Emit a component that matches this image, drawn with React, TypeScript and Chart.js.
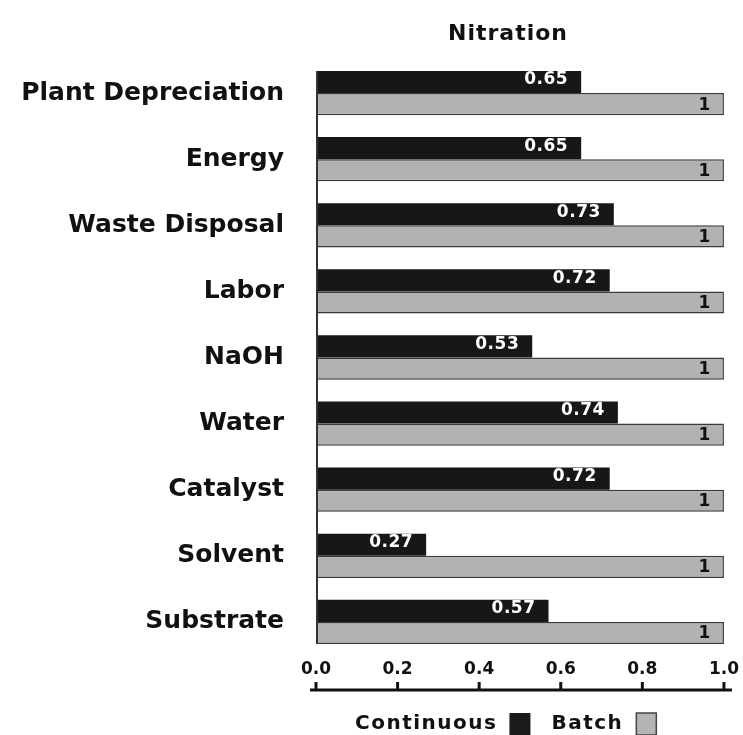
import React, { useEffect, useRef } from "react";
import { Chart, registerables } from "chart.js";

Chart.register(...registerables);

const categories = [
  "Plant Depreciation",
  "Energy",
  "Waste Disposal",
  "Labor",
  "NaOH",
  "Water",
  "Catalyst",
  "Solvent",
  "Substrate",
];
const continuous = [0.65, 0.65, 0.73, 0.72, 0.53, 0.74, 0.72, 0.27, 0.57];
const batch = [1, 1, 1, 1, 1, 1, 1, 1, 1];
const xTicks = [0, 0.2, 0.4, 0.6, 0.8, 1.0];
const titleText = "Nitration";
const seriesNames = ["Continuous", "Batch"];

const FONT = "'DejaVu Sans', sans-serif";

const decorPlugin = {
  id: "decor",
  afterDraw(chart: any) {
    const ctx = chart.ctx;
    const area = chart.chartArea;
    const xs = chart.scales.x;
    ctx.save();
    // title
    ctx.fillStyle = "#111";
    ctx.font = `bold 22px ${FONT}`;
    (ctx as any).letterSpacing = "1px";
    ctx.textAlign = "center";
    ctx.textBaseline = "middle";
    ctx.fillText(titleText, (area.left + area.right) / 2 - 12, 34);

    // y axis line between first bar top and last bar bottom
    const m0 = chart.getDatasetMeta(0).data;
    const m1 = chart.getDatasetMeta(1).data;
    const first = m0[0];
    const last = m1[m1.length - 1];
    const top = first.y - first.height / 2;
    const bottom = last.y + last.height / 2;
    ctx.strokeStyle = "#333";
    ctx.lineWidth = 2;
    ctx.beginPath();
    ctx.moveTo(area.left + 1, top);
    ctx.lineTo(area.left + 1, bottom);
    ctx.stroke();

    // value labels
    ctx.font = `bold 17px ${FONT}`;
    (ctx as any).letterSpacing = "0.5px";
    ctx.textAlign = "right";
    ctx.textBaseline = "middle";
    m0.forEach((el: any, i: number) => {
      ctx.fillStyle = "#fff";
      ctx.fillText(String(continuous[i]), el.x - 13, el.y - 2);
    });
    m1.forEach((el: any, i: number) => {
      ctx.fillStyle = "#111";
      ctx.fillText(String(batch[i]), el.x - 13, el.y + 1);
    });

    // x axis line with up ticks
    const axisY = 690;
    ctx.strokeStyle = "#111";
    ctx.lineWidth = 3;
    ctx.beginPath();
    ctx.moveTo(xs.getPixelForValue(0) - 6, axisY);
    ctx.lineTo(xs.getPixelForValue(1) + 8, axisY);
    ctx.stroke();
    xTicks.forEach((v) => {
      const px = xs.getPixelForValue(v);
      ctx.beginPath();
      ctx.moveTo(px, axisY);
      ctx.lineTo(px, axisY - 8);
      ctx.stroke();
    });

    // legend
    const ly = 724;
    ctx.font = `bold 20px ${FONT}`;
    (ctx as any).letterSpacing = "1.5px";
    ctx.textAlign = "left";
    ctx.fillStyle = "#111";
    ctx.fillText(seriesNames[0], 355, ly);
    const w0 = ctx.measureText(seriesNames[0]).width;
    const bx0 = 355 + w0 + 12;
    ctx.fillStyle = "#1a1a1a";
    ctx.fillRect(bx0, ly - 11, 21, 22);
    const tx1 = bx0 + 42;
    ctx.fillStyle = "#111";
    ctx.fillText(seriesNames[1], tx1, ly);
    const w1 = ctx.measureText(seriesNames[1]).width;
    const bx1 = tx1 + w1 + 13;
    ctx.fillStyle = "#b4b4b4";
    ctx.fillRect(bx1, ly - 11, 20, 22);
    ctx.strokeStyle = "#444";
    ctx.lineWidth = 1.5;
    ctx.strokeRect(bx1, ly - 11, 20, 22);
    ctx.restore();
  },
};

export default function App() {
  const ref = useRef<HTMLCanvasElement | null>(null);
  useEffect(() => {
    if (!ref.current) return;
    const chart = new Chart(ref.current, {
      type: "bar",
      data: {
        labels: categories,
        datasets: [
          {
            label: seriesNames[0],
            data: continuous,
            backgroundColor: "#171717",
            borderColor: "#171717",
            borderWidth: 0,
            categoryPercentage: 0.67,
            barPercentage: 1.0,
          },
          {
            label: seriesNames[1],
            data: batch,
            backgroundColor: "#b2b2b2",
            borderColor: "#3a3a3a",
            borderWidth: 1.5,
            borderSkipped: "left",
            categoryPercentage: 0.67,
            barPercentage: 1.0,
          },
        ],
      },
      options: {
        indexAxis: "y",
        animation: false,
        responsive: false,
        maintainAspectRatio: false,
        layout: { padding: { top: 60, right: 18, left: 0, bottom: 0 } },
        plugins: {
          legend: { display: false },
          title: { display: false },
          tooltip: { enabled: false },
        },
        scales: {
          x: {
            min: 0,
            max: 1,
            grid: { display: false, drawTicks: false },
            border: { display: false },
            afterBuildTicks: (s: any) => {
              s.ticks = xTicks.map((v) => ({ value: v }));
            },
            afterFit: (s: any) => {
              s.height = 735 - 655;
            },
            ticks: {
              padding: 4,
              color: "#111",
              font: { family: FONT, weight: "bold", size: 17 },
              callback: (v: any) => Number(v).toFixed(1),
            },
          },
          y: {
            grid: { display: false, drawTicks: false },
            border: { display: false },
            afterFit: (s: any) => {
              s.width = 316;
            },
            ticks: {
              padding: 32,
              color: "#111",
              font: { family: FONT, weight: "bold", size: 25 },
            },
          },
        },
      },
      plugins: [decorPlugin],
    } as any);
    return () => chart.destroy();
  }, []);
  return (
    <div style={{ position: "fixed", left: 0, top: 0, width: 743, height: 735, background: "#fff" }}>
      <canvas ref={ref} width={743} height={735} style={{ display: "block" }} />
    </div>
  );
}
